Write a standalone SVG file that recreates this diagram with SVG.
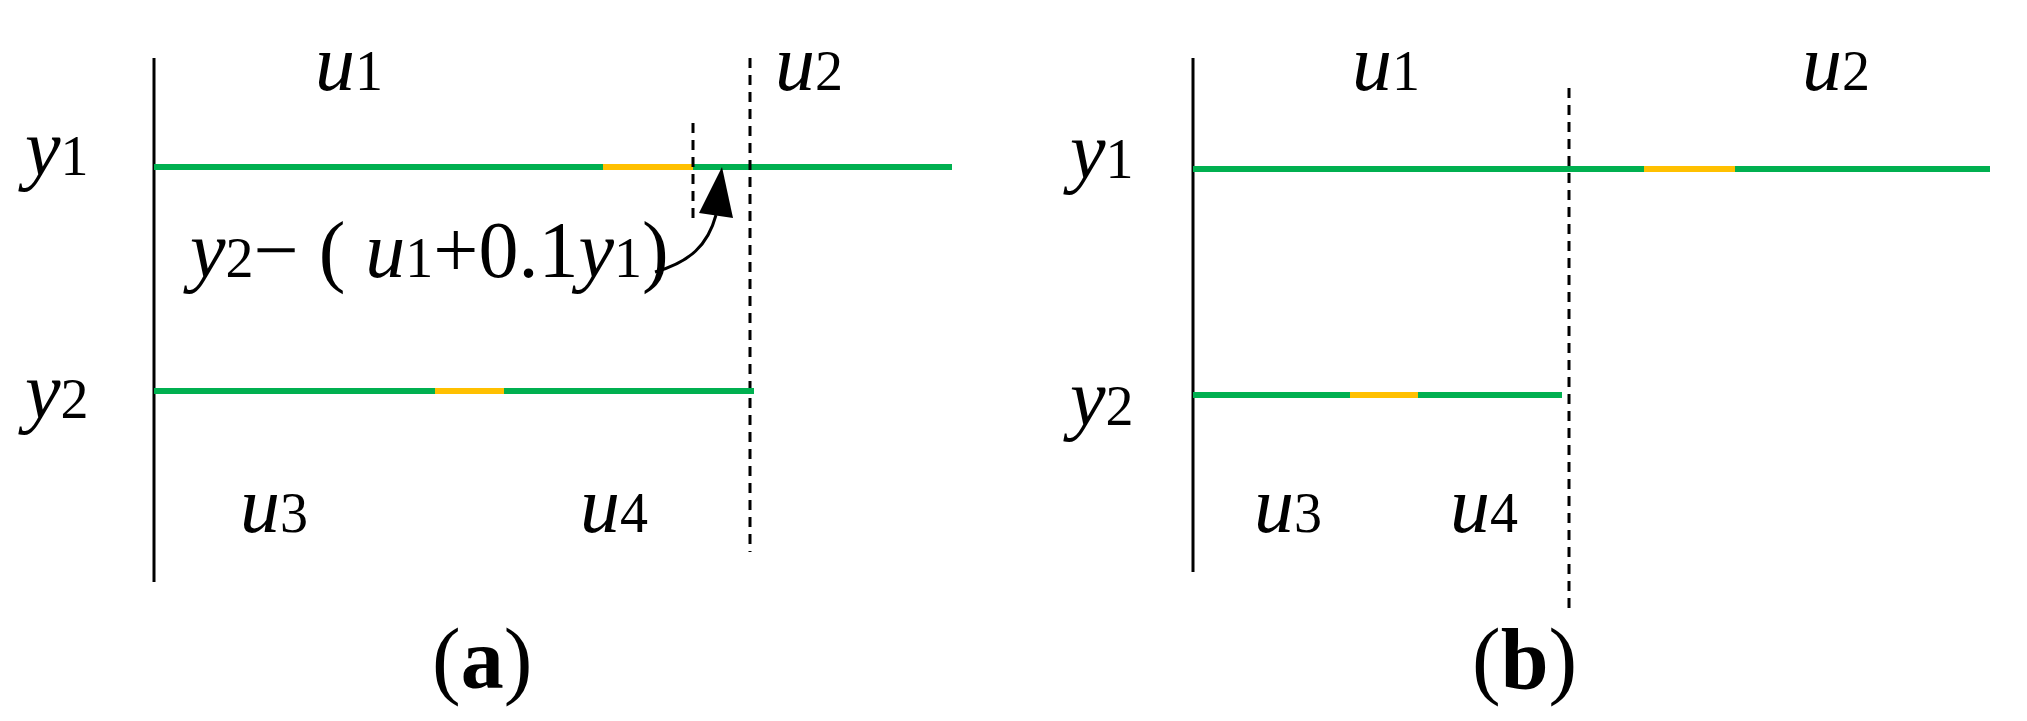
<svg xmlns="http://www.w3.org/2000/svg" width="2027" height="721" viewBox="0 0 2027 721">
<style>
.t{font-family:"Liberation Serif",serif;font-style:italic;font-size:80px;fill:#000}
.s{font-style:normal;font-size:56px}
.n{font-family:"Liberation Serif",serif;font-size:86px;fill:#000}
.ax{stroke:#000;stroke-width:3;fill:none}
.dash{stroke:#000;stroke-width:3;stroke-dasharray:10,7;fill:none}
.g{stroke:#00B050;stroke-width:6}
.o{stroke:#FFC000;stroke-width:6}
</style>
<g id="panel-a">
<line class="ax" x1="154" y1="58" x2="154" y2="582"/>
<line class="g" x1="154" y1="167" x2="952" y2="167"/>
<line class="o" x1="603" y1="167" x2="693" y2="167"/>
<line class="dash" x1="693" y1="123" x2="693" y2="220"/>
<line class="dash" x1="750" y1="58" x2="750" y2="552"/>
<line class="g" x1="154" y1="391" x2="754" y2="391"/>
<line class="o" x1="435" y1="391" x2="504" y2="391"/>
<text class="t" x="315" y="90">u<tspan class="s">1</tspan></text>
<text class="t" x="775" y="90">u<tspan class="s">2</tspan></text>
<text class="t" x="25" y="175">y<tspan class="s">1</tspan></text>
<text class="t" x="25" y="418">y<tspan class="s">2</tspan></text>
<text class="t" x="240" y="532">u<tspan class="s">3</tspan></text>
<text class="t" x="580" y="532">u<tspan class="s">4</tspan></text>
<text class="t" x="190" y="277">y<tspan class="s">2</tspan><tspan font-style="normal">− ( </tspan>u<tspan class="s">1</tspan><tspan font-style="normal">+0.1</tspan>y<tspan class="s">1</tspan><tspan font-style="normal">)</tspan></text>
<text class="n" x="432" y="688"><tspan>(</tspan><tspan font-weight="bold">a</tspan><tspan>)</tspan></text>
</g>
<g id="panel-b" transform="translate(-8,0)">
<line class="ax" x1="1201" y1="58" x2="1201" y2="572"/>
<line class="g" x1="1201" y1="169" x2="1998" y2="169"/>
<line class="o" x1="1652" y1="169" x2="1743" y2="169"/>
<line class="dash" x1="1577" y1="88" x2="1577" y2="611"/>
<line class="g" x1="1201" y1="395" x2="1570" y2="395"/>
<line class="o" x1="1358" y1="395" x2="1426" y2="395"/>
<text class="t" x="1360" y="90">u<tspan class="s">1</tspan></text>
<text class="t" x="1810" y="90">u<tspan class="s">2</tspan></text>
<text class="t" x="1078" y="178">y<tspan class="s">1</tspan></text>
<text class="t" x="1078" y="425">y<tspan class="s">2</tspan></text>
<text class="t" x="1262" y="532">u<tspan class="s">3</tspan></text>
<text class="t" x="1458" y="532">u<tspan class="s">4</tspan></text>
<text class="n" x="1480" y="688"><tspan>(</tspan><tspan font-weight="bold">b</tspan><tspan>)</tspan></text>
</g>
<g id="connectors">
<path d="M655,272 C690,262 708,245 716,215" fill="none" stroke="#000" stroke-width="3"/>
<path d="M722,167 L699,213 L733,218z" fill="#000"/>
</g>
</svg>
